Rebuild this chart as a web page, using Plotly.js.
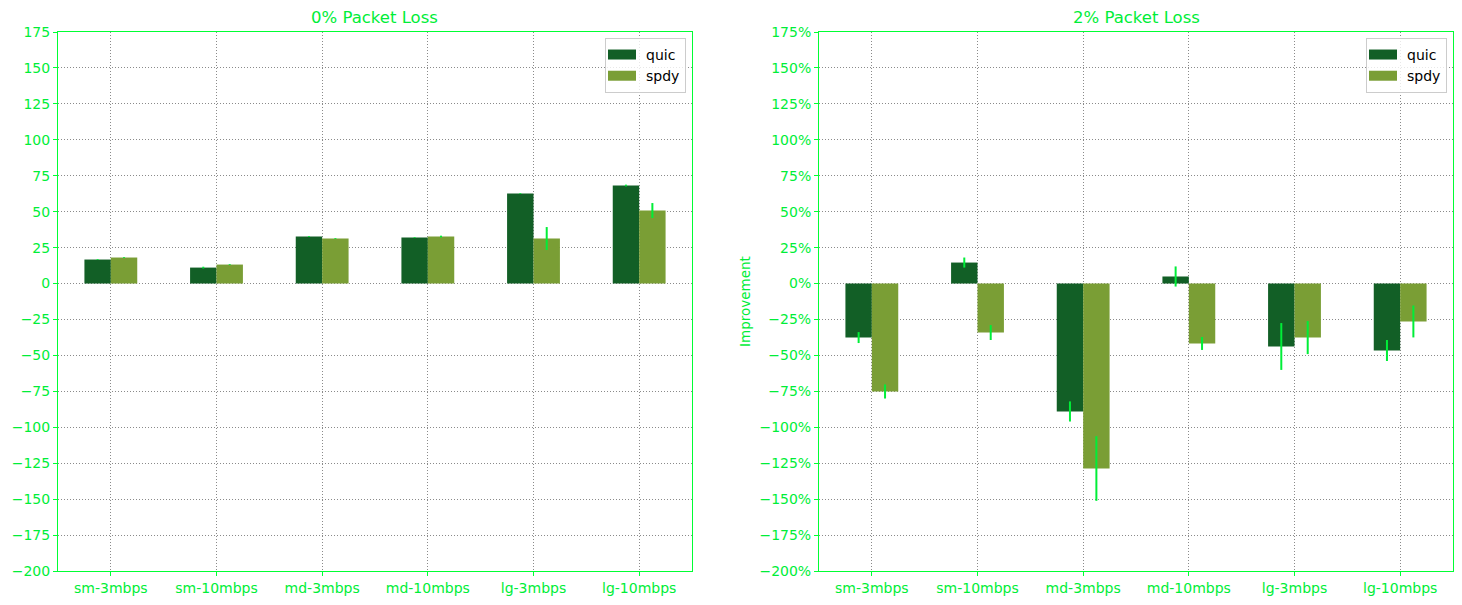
<!DOCTYPE html>
<html>
<head>
<meta charset="utf-8">
<script src="https://cdn.plot.ly/plotly-3.0.1.min.js"></script>
<style>
  html, body { margin: 0; padding: 0; background: #fff; }
  #chart { width: 1462px; height: 605px; }
</style>
</head>
<body>
<div id="chart"></div>
<script>
// categorias y mejoras (%)
const categorias = ['sm-3mbps', 'sm-10mbps', 'md-3mbps', 'md-10mbps', 'lg-3mbps', 'lg-10mbps'];

// 0% de perdida
const quic0 = [16.7, 11.1, 32.7, 32.0, 62.6, 68.2];
const quic0Err = [0.3, 0.6, 0.3, 0.3, 0.3, 0.6];
const spdy0 = [18.1, 13.2, 31.3, 32.7, 31.3, 50.8];
const spdy0Err = [0.3, 0.3, 0.3, 0.6, 8.0, 5.2];

// 2% de perdida
const quic2 = [-37.6, 14.6, -89.0, 4.9, -43.8, -46.6];
const quic2Err = [3.8, 3.5, 7.0, 7.0, 16.3, 7.3];
const spdy2 = [-75.1, -34.1, -128.7, -41.7, -37.6, -26.4];
const spdy2Err = [4.9, 5.2, 22.5, 4.5, 11.5, 11.1];

const verde = '#00ee38';
const linea = '#00ff33';
const cQuic = '#125f26';
const cSpdy = '#7a9e35';
const fuente = 'DejaVu Sans, sans-serif';

function serie(y, err, nombre, color, xa, ya, leg) {
  return {
    type: 'bar', x: categorias, y: y, name: nombre,
    xaxis: xa, yaxis: ya, legend: leg,
    marker: { color: color, line: { width: 0 } },
    error_y: { type: 'data', array: err, visible: true, color: verde, thickness: 2, width: 0 }
  };
}

const trazas = [
  serie(quic0, quic0Err, 'quic', cQuic, 'x', 'y', 'legend'),
  serie(spdy0, spdy0Err, 'spdy', cSpdy, 'x', 'y', 'legend'),
  serie(quic2, quic2Err, 'quic', cQuic, 'x2', 'y2', 'legend2'),
  serie(spdy2, spdy2Err, 'spdy', cSpdy, 'x2', 'y2', 'legend2')
];

const ejeX = dom => ({
  domain: dom, range: [-0.5, 5.5], type: 'category',
  showline: true, linecolor: linea, linewidth: 1, mirror: true,
  ticks: 'outside', ticklen: 4, tickcolor: linea,
  tickfont: { color: verde, size: 14, family: fuente },
  showgrid: true, gridcolor: '#8a8a8a', griddash: '1px,2px', gridwidth: 1,
  zeroline: false
});

const ejeY = (anchor, sufijo) => ({
  anchor: anchor, domain: [0, 1], range: [-200, 175], dtick: 25, tick0: 0,
  showline: true, linecolor: linea, linewidth: 1, mirror: true,
  ticks: 'outside', ticklen: 4, tickcolor: linea, ticksuffix: sufijo,
  tickfont: { color: verde, size: 14, family: fuente },
  showgrid: true, gridcolor: '#8a8a8a', griddash: '1px,2px', gridwidth: 1,
  zeroline: false
});

const leyenda = x => ({
  x: x, y: 0.989, xanchor: 'right', yanchor: 'top',
  bgcolor: 'rgba(255,255,255,0.8)', bordercolor: '#cccccc', borderwidth: 1,
  font: { size: 14, family: fuente, color: '#000' },
  itemwidth: 30, tracegroupgap: 0
});

const layout = {
  width: 1462, height: 605,
  margin: { l: 0, r: 0, t: 32, b: 34 },
  paper_bgcolor: '#fff', plot_bgcolor: '#fff',
  font: { family: fuente },
  barmode: 'group', bargap: 0.5, bargroupgap: 0,
  showlegend: true,
  xaxis: ejeX([58 / 1462, 692 / 1462]),
  yaxis: ejeY('x', ''),
  xaxis2: ejeX([819 / 1462, 1453 / 1462]),
  yaxis2: Object.assign(ejeY('x2', '%'), {
    title: { text: 'Improvement', font: { color: verde, size: 13.5, family: fuente }, standoff: 5 }
  }),
  legend: leyenda(686 / 1462),
  legend2: leyenda(1447 / 1462),
  annotations: [
    { text: '0% Packet Loss', x: (58 + 692) / 2 / 1462, y: 1, xref: 'paper', yref: 'paper',
      xanchor: 'center', yanchor: 'bottom', yshift: 3, showarrow: false,
      font: { color: verde, size: 16.5, family: fuente } },
    { text: '2% Packet Loss', x: (819 + 1453) / 2 / 1462, y: 1, xref: 'paper', yref: 'paper',
      xanchor: 'center', yanchor: 'bottom', yshift: 3, showarrow: false,
      font: { color: verde, size: 16.5, family: fuente } }
  ]
};

Plotly.newPlot('chart', trazas, layout, { displayModeBar: false, staticPlot: true }).then(gd => {
  // parches de leyenda rectangulares como en matplotlib
  gd.querySelectorAll('.legendpoints path').forEach(p => {
    p.setAttribute('d', 'M-18,-5H10V5H-18Z');
  });
});
</script>
</body>
</html>
